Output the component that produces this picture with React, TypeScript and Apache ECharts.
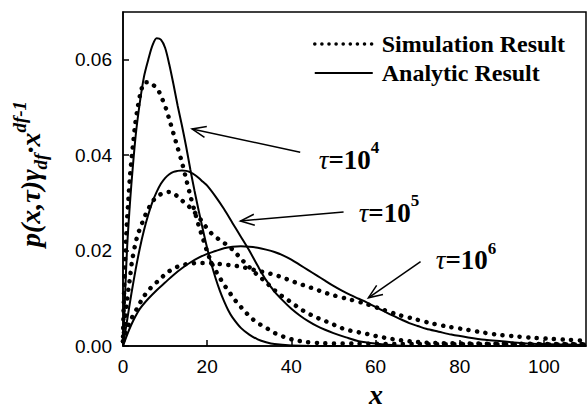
import React, { useEffect, useRef } from 'react';
import * as echarts from 'echarts';

// ---------- data ----------
const xTickInterval = 20;
const xMax = 110;
const yTickInterval = 0.02;
const yMax = 0.07;

const analytic1e4: number[][] = [
  [0, 0], [0.5, 0.011], [1, 0.021], [1.5, 0.028], [2, 0.034], [3, 0.044], [4, 0.051], [5, 0.0565],
  [6, 0.06], [7, 0.063], [8, 0.0645], [9, 0.0642], [10, 0.0625], [11, 0.059], [12, 0.0548],
  [13, 0.0503], [14, 0.0462], [15, 0.0418], [16, 0.037], [17, 0.0325], [18, 0.0283], [19, 0.0243],
  [20, 0.0205], [21, 0.0172], [22, 0.0142], [23, 0.0116], [24, 0.0094], [25, 0.0075], [26, 0.006],
  [28, 0.0038], [30, 0.0024], [32, 0.0014], [34, 0.0008], [36, 0.0004], [40, 0.0001], [45, 0], [110, 0],
];

const analytic1e5: number[][] = [
  [0, 0], [1, 0.0055], [2, 0.011], [3, 0.016], [4, 0.0205], [5, 0.0243], [6, 0.0275], [7, 0.0302],
  [8, 0.0323], [9, 0.034], [10, 0.0352], [11, 0.036], [12, 0.0365], [13, 0.0367], [14, 0.0368],
  [15, 0.0367], [16, 0.0364], [17, 0.0359], [18, 0.0352], [19, 0.0344], [20, 0.0336], [22, 0.0313],
  [24, 0.0287], [26, 0.0258], [28, 0.0229], [30, 0.02], [32, 0.0168], [34, 0.0138], [36, 0.0114],
  [38, 0.0095], [40, 0.0078], [42, 0.0064], [44, 0.0052], [46, 0.0042], [48, 0.0034], [50, 0.0027],
  [53, 0.0018], [56, 0.001], [60, 0.0005], [65, 0.0001], [70, 0], [110, 0],
];

const analytic1e6: number[][] = [
  [0, 0], [1, 0.0024], [2, 0.0045], [3, 0.0063], [4, 0.0078], [6, 0.0099], [8, 0.0117], [10, 0.0133],
  [12, 0.0149], [14, 0.0163], [16, 0.0175], [18, 0.0185], [20, 0.0193], [22, 0.0199], [24, 0.0205],
  [26, 0.0208], [28, 0.0209], [30, 0.0208], [32, 0.0206], [34, 0.0202], [36, 0.0197], [38, 0.019],
  [40, 0.0181], [42, 0.017], [44, 0.0159], [46, 0.0148], [48, 0.0137], [50, 0.0126], [52, 0.0116],
  [54, 0.0107], [56, 0.0099], [58, 0.0091], [60, 0.0082], [62, 0.0073], [64, 0.0064], [66, 0.0056],
  [68, 0.0048], [70, 0.0042], [72, 0.0036], [75, 0.003], [78, 0.0024], [82, 0.0018], [86, 0.0013],
  [90, 0.001], [95, 0.0006], [100, 0.0004], [105, 0.0003], [110, 0.0002],
];

const sim1e4: number[][] = [
  [0, 0.002], [0.15, 0.008], [0.3, 0.013], [0.5, 0.018], [0.7, 0.022], [0.9, 0.0255], [1.3, 0.031],
  [1.7, 0.036], [2.1, 0.0398], [2.5, 0.0432], [2.9, 0.0465], [3.5, 0.05], [4.3, 0.0535], [5.2, 0.0553],
  [6.2, 0.0553], [7.2, 0.0547], [8.3, 0.0537], [9.3, 0.0518], [10.2, 0.0498], [11, 0.0475], [12, 0.0445],
  [13, 0.0415], [14, 0.0385], [15, 0.035], [16, 0.0315], [17, 0.0283], [18, 0.0252], [19, 0.0225],
  [20, 0.0198], [21, 0.0175], [22, 0.0158], [23, 0.0143], [24, 0.0128], [25, 0.0117], [26, 0.0103],
  [27.4, 0.0088], [29, 0.0072], [30.7, 0.0057], [32.6, 0.0045], [34.4, 0.0036], [36.3, 0.0026],
  [38.3, 0.0019], [40.5, 0.0013], [43, 0.0009], [47, 0.0006], [55, 0.0005], [70, 0.0004], [110, 0.0003],
];

const sim1e5: number[][] = [
  [0, 0.001], [0.3, 0.0035], [0.5, 0.0055], [0.9, 0.009], [1.3, 0.012], [1.7, 0.0146], [2.1, 0.0175],
  [2.9, 0.0213], [3.6, 0.0236], [4.3, 0.0252], [5, 0.0268], [6, 0.0287], [7.2, 0.0305], [8.2, 0.0314],
  [9.2, 0.0319], [10.2, 0.0322], [11, 0.0323], [12, 0.032], [13, 0.0313], [14, 0.0305], [15, 0.0298],
  [16.5, 0.0285], [18, 0.027], [19.5, 0.0252], [21, 0.0236], [23, 0.0222], [25, 0.021], [26.7, 0.0196],
  [28, 0.0183], [29.8, 0.0167], [31.8, 0.015], [33.8, 0.0135], [35.6, 0.012], [37.4, 0.0107],
  [39.4, 0.0095], [41.3, 0.0083], [43.2, 0.0072], [45.2, 0.0063], [47.2, 0.0055], [49.3, 0.0048],
  [51.2, 0.004], [53.2, 0.0034], [55.2, 0.003], [57.1, 0.0027], [59, 0.0023], [61.2, 0.0019],
  [63, 0.0016], [65, 0.0013], [67, 0.0011], [69, 0.0009], [72, 0.0007], [76, 0.0006], [85, 0.0005],
  [110, 0.0004],
];

const sim1e6: number[][] = [
  [0, 0.001], [0.5, 0.0025], [1, 0.0038], [1.7, 0.0051], [2.5, 0.0066], [3.3, 0.0078], [4.8, 0.0102],
  [6.4, 0.012], [8.3, 0.0136], [10.4, 0.0153], [12.4, 0.0164], [14.3, 0.017], [16.3, 0.0173],
  [18.3, 0.0174], [20.2, 0.0174], [22, 0.0173], [23.8, 0.0171], [25.9, 0.0169], [28.1, 0.0166],
  [30, 0.0162], [31.8, 0.0158], [33.8, 0.0154], [35.7, 0.015], [37.8, 0.0144], [39.8, 0.0137],
  [41.7, 0.0131], [43.7, 0.0125], [45.7, 0.0119], [47.6, 0.0113], [49.7, 0.0107], [53.2, 0.0099],
  [57.1, 0.009], [61.2, 0.0078], [65.2, 0.0066], [69.1, 0.0057], [73.1, 0.0048], [77, 0.0041],
  [81.8, 0.0034], [85.7, 0.0028], [89.8, 0.0023], [93.7, 0.002], [97.6, 0.0017], [101.6, 0.0015],
  [105.6, 0.0013], [110, 0.0011],
];

// annotation anchors in data coordinates: label position, arrow tail, arrow head
const annotationExps = ['4', '5', '6'];
const annotationLabelPos: number[][] = [[46.5, 0.0398], [56.0, 0.0287], [74.3, 0.0187]];
const annotationTail: number[][] = [[42.1, 0.0406], [52.4, 0.0281], [70.7, 0.0177]];
const annotationHead: number[][] = [[16.4, 0.0455], [27.9, 0.0262], [58.3, 0.0101]];

const SERIF = '"Liberation Serif", "Times New Roman", serif';
const SANS = '"Liberation Sans", Arial, sans-serif';

export default function App() {
  const ref = useRef<HTMLDivElement>(null);

  useEffect(() => {
    if (!ref.current) return;
    const chart = echarts.init(ref.current, undefined, { renderer: 'svg' });

    const simStyle = { color: '#000', width: 4.5, type: [0.1, 8.5] as any, cap: 'round' as const };
    const anaStyle = { color: '#000', width: 2 };

    const mk = (name: string, data: number[][], lineStyle: any) => ({
      name,
      type: 'line',
      data,
      showSymbol: false,
      symbol: 'none',
      smooth: 0.3,
      lineStyle,
      itemStyle: { color: '#000' },
      z: 3,
    });

    const hiddenIcon = { color: 'rgba(0,0,0,0)', borderWidth: 0, opacity: 0 };

    chart.setOption({
      animation: false,
      backgroundColor: '#fff',
      grid: { left: 123, right: 1, top: 12, bottom: 64, show: true, borderColor: '#000', borderWidth: 1.5 },
      legend: {
        left: 308,
        top: 27,
        orient: 'vertical',
        itemWidth: 58,
        itemHeight: 12,
        itemGap: 5,
        textStyle: { fontFamily: SERIF, fontWeight: 'bold', fontSize: 24, color: '#000', padding: [0, 0, 0, 4] },
        data: [
          { name: 'Simulation Result', itemStyle: hiddenIcon, lineStyle: { width: 3.5, type: [0.1, 7], cap: 'round' } },
          { name: 'Analytic Result', itemStyle: hiddenIcon, lineStyle: { width: 2 } },
        ],
      },
      xAxis: {
        type: 'value',
        min: 0,
        max: xMax,
        interval: xTickInterval,
        axisLine: { lineStyle: { color: '#000', width: 1.5 } },
        axisTick: { inside: true, length: 6, lineStyle: { color: '#000', width: 1.5 } },
        axisLabel: { color: '#000', fontFamily: SANS, fontSize: 19, margin: 11, showMaxLabel: false },
        splitLine: { show: false },
      },
      yAxis: {
        type: 'value',
        min: 0,
        max: yMax,
        interval: yTickInterval,
        axisLine: { lineStyle: { color: '#000', width: 1.5 } },
        axisTick: { inside: true, length: 6, lineStyle: { color: '#000', width: 1.5 } },
        axisLabel: {
          color: '#000', fontFamily: SANS, fontSize: 19, margin: 11, showMaxLabel: false,
          formatter: (v: number) => v.toFixed(2),
        },
        splitLine: { show: false },
      },
      series: [
        mk('Simulation Result', sim1e4, simStyle),
        mk('Simulation Result', sim1e5, simStyle),
        mk('Simulation Result', sim1e6, simStyle),
        mk('Analytic Result', analytic1e4, anaStyle),
        mk('Analytic Result', analytic1e5, anaStyle),
        mk('Analytic Result', analytic1e6, anaStyle),
      ],
    });

    const toPx = (p: number[]) => chart.convertToPixel({ gridIndex: 0 }, p) as number[];
    const graphics: any[] = [];

    annotationExps.forEach((exp, i) => {
      const lp = toPx(annotationLabelPos[i]);
      const t = toPx(annotationTail[i]);
      const h = toPx(annotationHead[i]);
      graphics.push({
        type: 'line',
        shape: { x1: t[0], y1: t[1], x2: h[0], y2: h[1] },
        style: { stroke: '#000', lineWidth: 1.5 },
        z: 10,
      });
      const dx = t[0] - h[0];
      const dy = t[1] - h[1];
      const len = Math.sqrt(dx * dx + dy * dy);
      const ux = dx / len;
      const uy = dy / len;
      const L = 15;
      const a = 0.38;
      const w1 = [h[0] + L * (ux * Math.cos(a) - uy * Math.sin(a)), h[1] + L * (ux * Math.sin(a) + uy * Math.cos(a))];
      const w2 = [h[0] + L * (ux * Math.cos(-a) - uy * Math.sin(-a)), h[1] + L * (ux * Math.sin(-a) + uy * Math.cos(-a))];
      graphics.push({
        type: 'polyline',
        shape: { points: [w1, h, w2] },
        style: { stroke: '#000', lineWidth: 1.5, fill: 'none' },
        z: 10,
      });
      graphics.push({
        type: 'text',
        x: lp[0],
        y: lp[1],
        z: 10,
        style: {
          text: `{t|τ}{b|=10}{s|${exp}}`,
          verticalAlign: 'middle',
          align: 'left',
          rich: {
            t: { fontFamily: SERIF, fontStyle: 'italic', fontSize: 27, fill: '#000', lineHeight: 34, verticalAlign: 'bottom' },
            b: { fontFamily: SERIF, fontWeight: 'bold', fontSize: 27, fill: '#000', lineHeight: 34, verticalAlign: 'bottom' },
            s: { fontFamily: SERIF, fontWeight: 'bold', fontSize: 17, fill: '#000', lineHeight: 20, verticalAlign: 'top' },
          },
        },
      });
    });

    // x axis title
    graphics.push({
      type: 'text',
      left: 369,
      top: 380,
      style: { text: 'x', fontFamily: SERIF, fontStyle: 'italic', fontWeight: 'bold', fontSize: 28, fill: '#000' },
    });

    // y axis title (rotated)
    graphics.push({
      type: 'text',
      x: 30,
      y: 174,
      rotation: Math.PI / 2,
      style: {
        text: '{m|p(x,τ)γ}{sub|df}{m|·x}{sup|df-1}',
        align: 'center',
        verticalAlign: 'middle',
        rich: {
          m: { fontFamily: SERIF, fontStyle: 'italic', fontWeight: 'bold', fontSize: 28, fill: '#000', lineHeight: 40, verticalAlign: 'middle' },
          sub: { fontFamily: SERIF, fontStyle: 'italic', fontWeight: 'bold', fontSize: 19, fill: '#000', lineHeight: 17, verticalAlign: 'bottom' },
          sup: { fontFamily: SERIF, fontStyle: 'italic', fontWeight: 'bold', fontSize: 19, fill: '#000', lineHeight: 17, verticalAlign: 'top' },
        },
      },
    });

    chart.setOption({ graphic: graphics });

    return () => chart.dispose();
  }, []);

  return (
    <div
      ref={ref}
      style={{ position: 'fixed', left: 0, top: 0, width: 587, height: 410, background: '#fff' }}
    />
  );
}
